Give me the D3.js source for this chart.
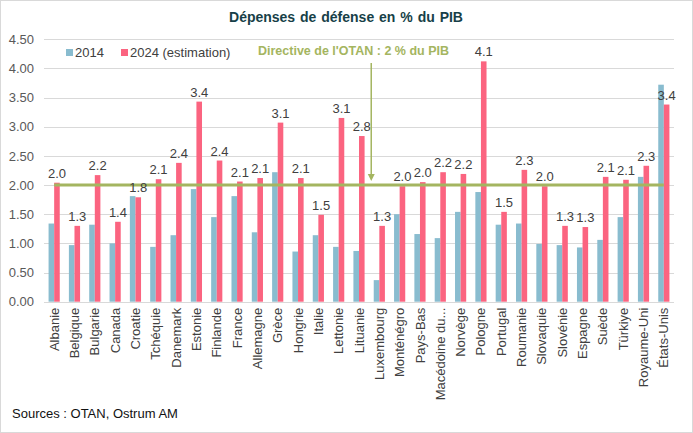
<!DOCTYPE html>
<html><head><meta charset="utf-8">
<script src="https://cdn.jsdelivr.net/npm/d3@7"></script>
<style>body{margin:0;background:#fff}svg{display:block;font-family:"Liberation Sans",Arial,sans-serif}</style>
</head><body><svg id="c" width="693" height="433"></svg>
<script>
const categories = ["Albanie","Belgique","Bulgarie","Canada","Croatie","Tchéquie","Danemark","Estonie","Finlande","France","Allemagne","Grèce","Hongrie","Italie","Lettonie","Lituanie","Luxembourg","Monténégro","Pays-Bas","Macédoine du...","Norvège","Pologne","Portugal","Roumanie","Slovaquie","Slovénie","Espagne","Suède","Türkiye","Royaume-Uni","États-Unis"];
const values2014 = [1.34,0.97,1.32,1.00,1.81,0.94,1.14,1.93,1.45,1.81,1.19,2.22,0.86,1.14,0.94,0.87,0.37,1.50,1.16,1.09,1.54,1.88,1.32,1.34,0.99,0.97,0.93,1.06,1.45,2.14,3.72];
const values2024 = [2.04,1.30,2.17,1.37,1.79,2.10,2.38,3.43,2.42,2.06,2.12,3.07,2.12,1.49,3.15,2.84,1.30,1.98,2.05,2.22,2.19,4.12,1.54,2.26,1.98,1.30,1.28,2.14,2.09,2.33,3.38];
const yTicks = [0,0.5,1,1.5,2,2.5,3,3.5,4,4.5];
const seriesNames = ["2014","2024 (estimation)"];
const target = 2;

(function(){
const svg = d3.select("#c");
const C14 = "#89BCCF", C24 = "#FB6480", OLIVE = "#A4B560";
const mLeft = 44, mRight = 674, mTop = 39.2, mBottom = 301.7;

svg.append("rect").attr("x",0.5).attr("y",0.5).attr("width",692).attr("height",432)
  .attr("fill","#fff").attr("stroke","#D9D9D9");

const x = d3.scaleBand().domain(categories).range([mLeft,mRight]).paddingInner(0.45).paddingOuter(0.225);
const xs = d3.scaleBand().domain(seriesNames).range([0,x.bandwidth()]);
const y = d3.scaleLinear().domain([0,4.5]).range([mBottom,mTop]);

svg.append("g").selectAll("line").data(yTicks).join("line")
  .attr("x1",mLeft).attr("x2",mRight).attr("y1",d=>Math.round(y(d))+0.5).attr("y2",d=>Math.round(y(d))+0.5)
  .attr("stroke","#D9D9D9").attr("stroke-width",1);

const yAxis = d3.axisLeft(y).tickValues(yTicks).tickFormat(d3.format(".2f")).tickSize(0).tickPadding(10);
const ga = svg.append("g").attr("transform",`translate(${mLeft},0)`).call(yAxis);
ga.select(".domain").remove();
ga.selectAll("text").attr("font-size","13px").attr("fill","#595959").attr("font-family","Liberation Sans, Arial");

const g = svg.append("g");
g.selectAll("rect.a").data(categories).join("rect").attr("class","a")
  .attr("x",(d)=>x(d)+xs("2014")).attr("width",xs.bandwidth())
  .attr("y",(d,i)=>y(values2014[i])).attr("height",(d,i)=>y(0)-y(values2014[i])).attr("fill",C14);
g.selectAll("rect.b").data(categories).join("rect").attr("class","b")
  .attr("x",(d)=>x(d)+xs("2024 (estimation)")).attr("width",xs.bandwidth())
  .attr("y",(d,i)=>y(values2024[i])).attr("height",(d,i)=>y(0)-y(values2024[i])).attr("fill",C24);

const cx = d => x(d)+x.bandwidth()/2;
svg.append("line").attr("x1",cx(categories[0])).attr("x2",cx(categories[categories.length-1]))
  .attr("y1",y(target)).attr("y2",y(target)).attr("stroke",OLIVE).attr("stroke-width",3);

svg.append("g").selectAll("text").data(categories).join("text")
  .attr("x",d=>x(d)+xs("2024 (estimation)")+xs.bandwidth()/2)
  .attr("y",(d,i)=>y(values2024[i])-5)
  .attr("text-anchor","middle").attr("font-size","13px").attr("fill","#404040")
  .text((d,i)=>values2024[i].toFixed(1));

svg.append("g").selectAll("text").data(categories).join("text")
  .attr("transform",d=>`translate(${cx(d)},${mBottom+6}) rotate(-90)`)
  .attr("text-anchor","end").attr("dy","0.35em").attr("font-size","13px").attr("fill","#404040")
  .text(d=>d);

svg.append("text").attr("x",346).attr("y",22).attr("text-anchor","middle")
  .attr("font-size","14px").attr("font-weight","bold").attr("fill","#173F48").attr("word-spacing","1px")
  .text("Dépenses de défense en % du PIB");

const lg = svg.append("g");
lg.append("rect").attr("x",66).attr("y",49).attr("width",7).attr("height",7).attr("fill",C14);
lg.append("text").attr("x",75).attr("y",57).attr("font-size","13px").attr("fill","#404040").text(seriesNames[0]);
lg.append("rect").attr("x",121).attr("y",49).attr("width",7).attr("height",7).attr("fill",C24);
lg.append("text").attr("x",130).attr("y",57).attr("font-size","13px").attr("fill","#404040").text(seriesNames[1]);

svg.append("text").attr("x",258).attr("y",55).attr("font-size","12.5px").attr("font-weight","bold")
  .attr("fill",OLIVE).text("Directive de l'OTAN : 2 % du PIB");
const ax = x("Luxembourg") - 2.5;
svg.append("line").attr("x1",ax).attr("x2",ax).attr("y1",63).attr("y2",y(target)-10)
  .attr("stroke",OLIVE).attr("stroke-width",1.5);
svg.append("path").attr("d",`M${ax-3.5},${y(target)-11}L${ax+3.5},${y(target)-11}L${ax},${y(target)-4}Z`).attr("fill",OLIVE);

svg.append("text").attr("x",12).attr("y",418).attr("font-size","13px").attr("fill","#111")
  .text("Sources : OTAN, Ostrum AM");
})();
</script></body></html>
